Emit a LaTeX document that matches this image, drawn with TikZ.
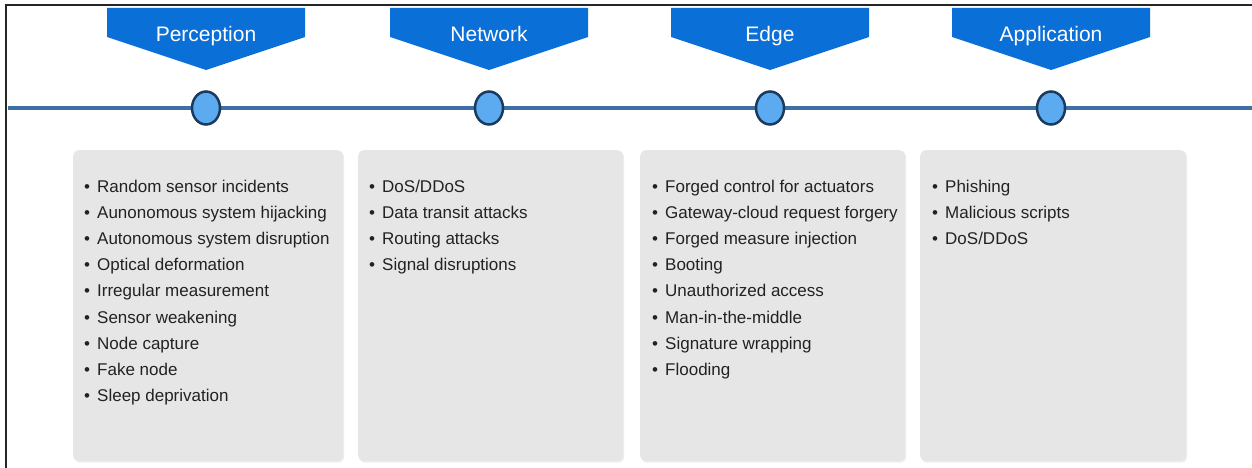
\documentclass[tikz,border=0pt]{standalone}
\usepackage{fontspec}
\setmainfont{Liberation Sans}
\usetikzlibrary{shapes.geometric,shadows}

\definecolor{bannerblue}{HTML}{0B6FD8}
\definecolor{dotfill}{HTML}{5CAAF0}
\definecolor{dotrim}{HTML}{1B3B5E}
\definecolor{railblue}{HTML}{3E70A6}
\definecolor{panelgray}{HTML}{E6E6E6}
\definecolor{itemtext}{HTML}{222222}

\tikzset{
  banner/.style={fill=bannerblue},
  bannertext/.style={anchor=base, inner sep=0pt, text=white,
    font=\fontsize{21}{24}\selectfont},
  dot/.style={ellipse, draw=dotrim, line width=2.5pt, fill=dotfill,
    minimum width=28pt, minimum height=33pt, inner sep=0pt},
  rail/.style={draw=railblue, line width=3.2pt},
  panel/.style={fill=panelgray, rounded corners=6pt, anchor=north west,
    minimum height=311pt, inner sep=0pt,
    drop shadow={opacity=0.12, shadow xshift=1pt, shadow yshift=-1.5pt}},
  item/.style={anchor=base west, inner sep=0pt, text=itemtext,
    font=\fontsize{17}{20}\selectfont},
  frame/.style={draw=black!85, line width=1.5pt}
}

\newcommand{\bul}{\makebox[13pt][l]{\textbullet}}

\begin{document}
\begin{tikzpicture}[x=1pt, y=-1pt]
  \useasboundingbox (0,0) rectangle (1252,468);
  \fill[white] (0,0) rectangle (1252,468);

  % outer frame (left and top)
  \draw[frame] (6,468) -- (6,5) -- (1252,5);

  % timeline rail and stage markers
  \coordinate (railL) at (8,108);
  \coordinate (railR) at (1252,108);
  \draw[rail] (railL) -- (railR);
  \node[dot] (d1) at (206,108) {};
  \node[dot] (d2) at (489,108) {};
  \node[dot] (d3) at (770,108) {};
  \node[dot] (d4) at (1051,108) {};

  % stage banners
  \foreach \cx/\name/\title in {206/b1/Perception, 489/b2/Network,
                                770/b3/Edge, 1051/b4/Application}{
    \fill[banner] (\cx-99,8) -- (\cx+99,8) -- (\cx+99,37) -- (\cx,70)
                  -- (\cx-99,37) -- cycle;
    \node[bannertext] (\name) at (\cx,42) {\title};
  }

  % attack panels
  \node[panel, minimum width=270pt] (p1) at (73,150) {};
  \node[panel, minimum width=265pt] (p2) at (358,150) {};
  \node[panel, minimum width=265pt] (p3) at (640,150) {};
  \node[panel, minimum width=266pt] (p4) at (920,150) {};

  % panel contents
  \foreach \t [count=\i] in {Random sensor incidents, Aunonomous system hijacking,
      Autonomous system disruption, Optical deformation, Irregular measurement,
      Sensor weakening, Node capture, Fake node, Sleep deprivation}{
    \node[item] at (84,192+26.2*\i-26.2) {\bul\t};
  }
  \foreach \t [count=\i] in {DoS/DDoS, Data transit attacks, Routing attacks,
      Signal disruptions}{
    \node[item] at (369,192+26.2*\i-26.2) {\bul\t};
  }
  \foreach \t [count=\i] in {Forged control for actuators,
      Gateway-cloud request forgery, Forged measure injection, Booting,
      Unauthorized access, Man-in-the-middle, Signature wrapping, Flooding}{
    \node[item] at (652,192+26.2*\i-26.2) {\bul\t};
  }
  \foreach \t [count=\i] in {Phishing, Malicious scripts, DoS/DDoS}{
    \node[item] at (932,192+26.2*\i-26.2) {\bul\t};
  }
\end{tikzpicture}
\end{document}
